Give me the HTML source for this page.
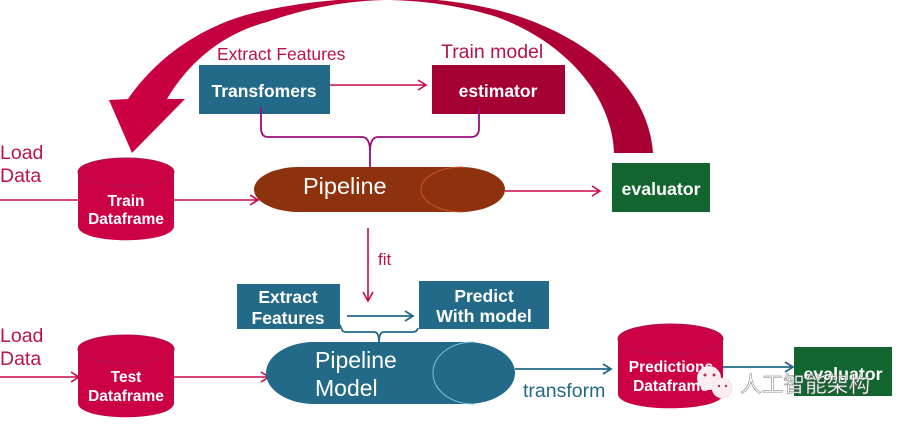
<!DOCTYPE html>
<html><head><meta charset="utf-8"><style>
html,body{margin:0;padding:0;background:#fff;width:900px;height:425px;overflow:hidden}
svg{display:block}
text{font-family:"Liberation Sans","Noto Sans CJK SC",sans-serif}
.b{font-weight:bold;fill:#fff;text-anchor:middle;font-size:15.500px}
.c{font-size:17.500px}
.l{fill:none;stroke:#c8084f;stroke-width:1.6}
.t{fill:none;stroke:#236a88;stroke-width:1.8}
.p{fill:none;stroke:#990f78;stroke-width:1.8}
</style></head><body>
<svg width="900" height="425" viewBox="0 0 900 425" xmlns="http://www.w3.org/2000/svg">
<defs><linearGradient id="g" gradientUnits="userSpaceOnUse" x1="110" y1="0" x2="653" y2="0"><stop offset="0" stop-color="#cc0044"/><stop offset="0.5" stop-color="#b80039"/><stop offset="1" stop-color="#a80034"/></linearGradient></defs>
<path fill="url(#g)" d="M109 100 L128 99 C158 56 205 22 267 10 C300 3 340 -2 390 -2 C430 -2 465 2 497 10 C575 30 648 80 653 153 L614 153 C612 95 565 42 497 17 C465 7 430 1 390 0 C345 0 300 10 267 22 C225 33 190 60 167 99 L185 99 L132 153 Z"/>
<rect x="199" y="65" width="131" height="49" fill="#236a88"/>
<rect x="432" y="65" width="133" height="49" fill="#a50034"/>
<rect x="612" y="163" width="98" height="49" fill="#12652f"/>
<rect x="237" y="284" width="103" height="45" fill="#236a88"/>
<rect x="419" y="281" width="130" height="48" fill="#236a88"/>
<rect x="794" y="347" width="98" height="49" fill="#12652f"/>
<path class="p" d="M261 107 V128 Q261 137 268 137 H362 Q370 137 370 152 V167 M370 167 V152 Q370 137 378 137 H471 Q479 137 479 128 V107"/>
<path class="l" d="M330 85 H425 M418 80 L426 85 L418 90"/>
<rect x="254" y="167" width="251" height="45" rx="45" ry="22.5" fill="#8e320d"/>
<path d="M463 167 C440 167 421 177 421 189.500 C421 202 440 212 463 212" fill="none" stroke="#c9562a" stroke-width="1"/>
<path class="l" d="M505 191 H598 M592 186 L600 191 L592 196"/>
<path class="l" d="M0 200 H80 M174 200 H257 M250 195 L258 200 L250 205"/>
<path class="l" d="M0 377 H78 M71 372 L79 377 L71 382 M174 377 H268 M261 372 L269 377 L261 382"/>
<path d="M78 172 V226 C78 245 174 245 174 226 V172 Z" fill="#cc0044"/>
<ellipse cx="126" cy="172" rx="48" ry="14" fill="#cc0044" stroke="#ad1055" stroke-width="1"/>
<path d="M78 349 V403 C78 422 174 422 174 403 V349 Z" fill="#cc0044"/>
<ellipse cx="126" cy="349" rx="48" ry="14" fill="#cc0044" stroke="#ad1055" stroke-width="1"/>
<path d="M618 339 V394 C618 413 723 413 723 394 V339 Z" fill="#cc0044"/>
<ellipse cx="670.500" cy="339" rx="52.500" ry="15" fill="#cc0044" stroke="#ad1055" stroke-width="1"/>
<path class="l" d="M368 228 V300 M363 292 L368 301 L373 292"/>
<path class="t" d="M347 316 H412 M405 311 L413 316 L405 321"/>
<path class="t" stroke-width="1.500" d="M340 325 L342 330 Q343 332 346 332 H374 Q379 332 379 342 M379 342 Q379 332 384 332 H413 Q417 332 418 328"/>
<rect x="266" y="342" width="249" height="62" rx="48" ry="31" fill="#236a88"/>
<path d="M474 342 C450 342 433 356 433 373 C433 390 450 404 474 404" fill="none" stroke="#72cbe0" stroke-width="1"/>
<path class="t" d="M515 369 H610 M603 364 L611 369 L603 374"/>
<path class="t" d="M723 367 H792 M785 362 L793 367 L785 372"/>
<text x="217" y="60" font-size="17.500" fill="#bb1250">Extract Features</text>
<text x="441" y="58" font-size="19.500" fill="#b5124c">Train model</text>
<text x="264" y="97" class="b c">Transfomers</text>
<text x="498" y="97" class="b c">estimator</text>
<text x="661" y="195" class="b" style="font-size:17.800px">evaluator</text>
<text x="303" y="194" font-size="23.500" fill="#fff">Pipeline</text>
<text x="0" y="159" font-size="19.500" fill="#bb1250">Load</text>
<text x="0" y="182" font-size="19.500" fill="#bb1250">Data</text>
<text x="0" y="342" font-size="19.500" fill="#bb1250">Load</text>
<text x="0" y="365" font-size="19.500" fill="#bb1250">Data</text>
<text x="126" y="206" class="b">Train</text>
<text x="126" y="224" class="b">Dataframe</text>
<text x="126" y="382" class="b">Test</text>
<text x="126" y="401" class="b">Dataframe</text>
<text x="378" y="265" font-size="17" fill="#bb1250">fit</text>
<text x="288" y="303" class="b c">Extract</text>
<text x="288" y="324" class="b c">Features</text>
<text x="484" y="302" class="b c">Predict</text>
<text x="484" y="322" class="b" style="font-size:17.800px">With model</text>
<text x="315" y="368" font-size="23" fill="#fff">Pipeline</text>
<text x="315" y="396" font-size="23" fill="#fff">Model</text>
<text x="523" y="397" font-size="19.500" fill="#236a88">transform</text>
<text x="671" y="372" class="b">Predictions</text>
<text x="671" y="391" class="b">Dataframe</text>
<text x="843" y="380" class="b" style="font-size:17.800px">evaluator</text>
<circle cx="709" cy="378" r="12" fill="#fbeef2"/>
<circle cx="722" cy="388" r="10" fill="#fbeef2" stroke="#ddd" stroke-width=".6"/>
<circle cx="705" cy="375" r="1.500" fill="#b03060"/><circle cx="714" cy="375" r="1.500" fill="#b03060"/>
<circle cx="719" cy="386" r="1.200" fill="#b03060"/><circle cx="726" cy="386" r="1.200" fill="#b03060"/>
<text x="740" y="392" font-size="21.700" fill="#fff" stroke="#777" stroke-width=".5">人工智能架构</text>
</svg>
</body></html>
